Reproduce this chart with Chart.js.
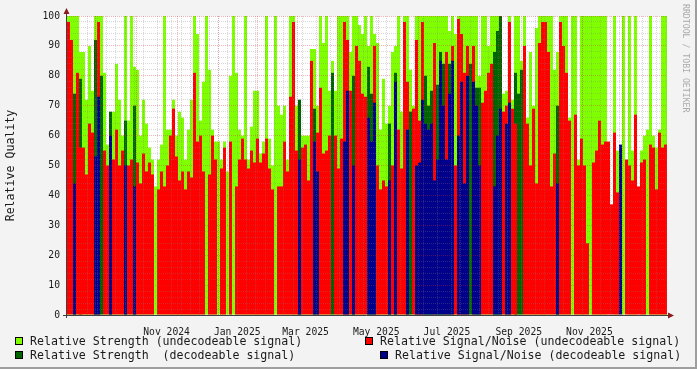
<!DOCTYPE html>
<html>
<head>
<meta charset="utf-8">
<script src="https://cdn.jsdelivr.net/npm/chart.js@4/dist/chart.umd.min.js"></script>
<style>
  body { margin: 0; background: #f3f3f3; }
  #wrap { position: relative; width: 697px; height: 369px; overflow: hidden; }
  #wrap::after { content: ''; position: absolute; right: 0; top: 0; width: 2px; height: 369px; background: #9e9e9e; }
  #wrap::before { content: ''; position: absolute; left: 0; bottom: 0; width: 697px; height: 2px; background: #9e9e9e; }
  canvas { position: absolute; left: 0; top: 0; }
  .lg { position: absolute; font: 11.6px "DejaVu Sans Mono", monospace; color: #1a1a1a; line-height: 14px; white-space: pre; }
  .sw { position: absolute; width: 6px; height: 6px; border: 1px solid #000; }
  #mark { position: absolute; left: 681px; top: 4px; writing-mode: vertical-rl; font: 8.2px "DejaVu Sans Mono", monospace; color: #aaaaaa; white-space: pre; }
</style>
</head>
<body>
<div id="wrap">
  <canvas id="quality" width="697" height="369"></canvas>
  <div id="mark">RRDTOOL / TOBI OETIKER</div>
  <div class="sw" style="left:15px;top:337px;background:#7fff00"></div>
  <div class="lg" style="left:30px;top:334px">Relative Strength (undecodeable signal)</div>
  <div class="sw" style="left:365px;top:337px;background:#ff0000"></div>
  <div class="lg" style="left:380px;top:334px">Relative Signal/Noise (undecodeable signal)</div>
  <div class="sw" style="left:15px;top:351px;background:#006400"></div>
  <div class="lg" style="left:30px;top:348px">Relative Strength  (decodeable signal)</div>
  <div class="sw" style="left:380px;top:351px;background:#00008b"></div>
  <div class="lg" style="left:395px;top:348px">Relative Signal/Noise (decodeable signal)</div>
</div>
<script>
// one bin = 2.22 days, first bin starts 28 Sep 2024
const startDay = Date.UTC(2024, 8, 28);
const daysPerBin = 2.22;
const dayMs = 86400000;

// Relative Strength (undecodeable signal)
const limeStrength = [
  100,100,100,100,88,88,72,90,75,100,100,100,81,57,60,68,84,72,60,100,
  65,100,83,82,60,72,64,56,52,43,52,57,100,62,62,72,60,68,66,52,
  62,72,100,94,65,78,100,82,62,58,58,52,58,48,80,100,81,62,60,100,
  52,63,75,75,54,58,100,59,50,100,70,67,70,52,100,100,70,62,60,60,
  60,89,89,70,100,91,100,75,85,75,100,100,100,100,88,100,100,97,94,100,
  90,100,94,91,62,79,64,70,88,90,100,68,100,100,82,70,100,100,100,100,
  100,100,100,100,100,100,100,95,100,94,100,100,100,100,100,100,100,80,100,100,
  90,100,100,100,100,74,75,100,72,100,100,85,100,66,88,70,96,100,100,100,
  100,100,82,88,100,100,100,66,100,100,52,100,100,100,100,100,100,100,100,100,
  0,0,100,55,0,100,0,100,55,100,0,55,60,62,100,60,56,62,100,100
];

// Relative Signal/Noise (undecodeable signal)
const redSnr = [
  98,92,0,81,56,56,47,64,61,0,98,0,55,50,0,52,62,50,55,0,
  50,52,0,51,44,54,48,51,47,0,42,48,43,50,60,69,53,45,48,42,
  48,46,81,58,60,48,0,47,60,52,0,49,56,0,58,0,43,52,59,52,
  49,55,51,59,51,54,59,49,42,0,43,43,58,48,73,98,55,0,56,57,
  45,85,0,61,76,54,55,60,0,60,49,59,98,92,75,0,90,85,74,73,
  0,0,90,50,42,45,43,0,50,0,62,49,98,78,0,69,92,65,98,0,
  0,0,91,0,0,0,88,0,90,50,99,94,81,90,0,90,0,0,71,75,
  81,84,0,0,0,68,70,98,69,64,0,0,90,64,50,69,44,91,98,98,
  88,43,54,0,98,90,81,65,0,67,50,59,50,24,0,51,55,65,57,58,
  58,37,61,41,0,0,52,50,45,67,43,51,52,0,57,56,42,61,56,57
];

// Relative Strength (decodeable signal)
const dkStrength = [
  0,0,74,0,79,0,0,0,0,92,0,80,0,0,68,0,0,0,0,65,
  0,0,70,0,0,0,0,0,0,0,0,0,0,0,0,0,0,0,0,0,
  0,0,0,0,0,0,0,0,0,0,0,0,0,0,0,0,0,0,0,0,
  0,0,0,0,0,0,0,0,0,0,0,0,0,0,0,0,0,72,0,0,
  0,0,69,0,0,0,0,0,81,0,0,0,0,0,0,80,0,0,0,0,
  83,74,0,0,0,0,0,64,0,81,0,0,0,0,68,0,0,0,0,80,
  70,75,0,77,88,84,0,84,0,0,0,0,0,0,84,0,76,76,0,0,
  0,0,88,95,100,0,0,0,0,81,74,82,0,0,0,0,0,0,0,0,
  0,0,0,70,0,0,0,0,0,0,0,0,0,0,0,0,0,0,0,0,
  0,0,0,0,0,0,0,0,0,0,0,0,0,0,0,0,0,0,0,0
];

// Relative Signal/Noise (decodeable signal)
const blueSnr = [
  0,0,44,0,0,0,0,0,0,53,73,0,0,0,60,0,0,0,0,50,
  0,0,43,0,0,0,0,0,0,0,0,0,0,0,0,0,0,0,0,0,
  0,0,0,0,0,0,0,0,0,0,0,0,0,0,0,0,0,0,0,0,
  0,0,0,0,0,0,0,0,0,0,0,0,0,0,0,0,0,52,0,0,
  0,0,58,48,0,0,0,0,0,0,0,0,58,75,0,50,0,0,0,0,
  66,58,71,0,0,0,0,45,0,78,0,0,0,62,0,0,50,51,72,64,
  62,64,45,52,85,70,52,74,85,0,60,78,44,80,0,78,70,50,0,0,
  0,0,43,60,69,0,64,71,0,0,0,0,0,0,0,0,0,0,0,0,
  0,0,0,44,0,0,0,0,0,0,0,0,0,0,0,0,0,0,0,0,
  0,0,0,0,57,0,0,0,0,0,0,0,0,0,0,0,0,0,0,0
];

const tickLabels = ['Nov 2024', 'Jan 2025', 'Mar 2025', 'May 2025', 'Jul 2025', 'Sep 2025', 'Nov 2025'];
const tickLabelDates = [[2024, 10, 16], [2025, 0, 16], [2025, 2, 16], [2025, 4, 16], [2025, 6, 16], [2025, 8, 16], [2025, 10, 16]];

function toBin(y, m, d) {
    return (Date.UTC(y, m, d) - startDay) / dayMs / daysPerBin;
}

const binCount = limeStrength.length;
const categories = limeStrength.map((v, i) => new Date(startDay + i * daysPerBin * dayMs).toISOString().slice(0, 10));

// month starts = major grid, mondays = minor grid
const gridTicks = [];
for (let m = 9; m <= 23; m++) {
    gridTicks.push({ value: toBin(2024, m, 1), major: true });
}
for (let d = 2; d < binCount * daysPerBin; d += 7) {
    const v = d / daysPerBin;
    if (!gridTicks.some(t => Math.abs(t.value - v) < 0.5)) gridTicks.push({ value: v, major: false });
}
const labelTicks = tickLabelDates.map(([y, m, d]) => ({ value: toBin(y, m, d) }));

const monoFont = '"DejaVu Sans Mono", monospace';

const plotBackground = {
    id: 'plotBackground',
    beforeDraw(chart) {
        const { ctx, chartArea } = chart;
        ctx.save();
        ctx.fillStyle = '#ffffff';
        ctx.fillRect(chartArea.left, chartArea.top, chartArea.right - chartArea.left, chartArea.bottom - chartArea.top);
        ctx.restore();
    }
};

const axisArrows = {
    id: 'axisArrows',
    afterDraw(chart) {
        const { ctx, chartArea } = chart;
        const { left, top, right, bottom } = chartArea;
        ctx.save();
        ctx.strokeStyle = '#404040';
        ctx.lineWidth = 1;
        ctx.beginPath();
        ctx.moveTo(left - 0.5, bottom + 3);
        ctx.lineTo(left - 0.5, top - 3);
        ctx.moveTo(left - 4, bottom + 0.5);
        ctx.lineTo(right + 3, bottom + 0.5);
        ctx.stroke();
        ctx.fillStyle = '#8b1a1a';
        ctx.beginPath();
        ctx.moveTo(left - 3.5, top - 2);
        ctx.lineTo(left + 2.5, top - 2);
        ctx.lineTo(left - 0.5, top - 8);
        ctx.closePath();
        ctx.fill();
        ctx.beginPath();
        ctx.moveTo(right + 1, bottom - 2.5);
        ctx.lineTo(right + 1, bottom + 3.5);
        ctx.lineTo(right + 7, bottom + 0.5);
        ctx.closePath();
        ctx.fill();
        ctx.restore();
    }
};

new Chart(document.getElementById('quality'), {
    type: 'bar',
    data: {
        labels: categories,
        datasets: [
            { label: 'Relative Signal/Noise (decodeable signal)', data: blueSnr, backgroundColor: '#00008b', order: 1 },
            { label: 'Relative Signal/Noise (undecodeable signal)', data: redSnr, backgroundColor: '#ff0000', order: 2 },
            { label: 'Relative Strength  (decodeable signal)', data: dkStrength, backgroundColor: '#006400', order: 3 },
            { label: 'Relative Strength (undecodeable signal)', data: limeStrength, backgroundColor: '#7fff00', order: 4 }
        ]
    },
    options: {
        responsive: false,
        animation: false,
        devicePixelRatio: 1,
        datasets: {
            bar: { grouped: false, categoryPercentage: 1, barPercentage: 1, borderWidth: 0, inflateAmount: 0 }
        },
        layout: { padding: { left: 0, top: 16, right: 30, bottom: 0 } },
        plugins: { legend: { display: false }, tooltip: { enabled: false } },
        scales: {
            x: { display: false },
            xt: {
                type: 'linear', position: 'bottom', min: 0, max: binCount,
                afterBuildTicks: scale => { scale.ticks = gridTicks.map(t => ({ value: t.value, major: t.major })); },
                afterFit: scale => { scale.height = 0; },
                ticks: { display: false, autoSkip: false },
                border: { display: false, dash: [1, 1] },
                grid: {
                    z: 1, drawTicks: false,
                    color: ctx => (ctx.tick && ctx.tick.major) ? 'rgba(215,40,40,0.35)' : 'rgba(128,128,128,0.3)'
                }
            },
            xl: {
                type: 'linear', position: 'bottom', min: 0, max: binCount,
                afterBuildTicks: scale => { scale.ticks = labelTicks.map(t => ({ value: t.value })); },
                afterFit: scale => { scale.height = 54; },
                ticks: {
                    autoSkip: false, maxRotation: 0, padding: 4, color: '#1a1a1a',
                    font: { family: monoFont, size: 9.7 },
                    callback: (v, i) => tickLabels[i]
                },
                border: { display: false },
                grid: { display: false }
            },
            y: {
                min: 0, max: 100,
                afterBuildTicks: scale => {
                    const t = [];
                    for (let v = 0; v <= 100; v += 2) t.push({ value: v });
                    scale.ticks = t;
                },
                afterFit: scale => { scale.width = 67; },
                ticks: {
                    autoSkip: false, padding: 7, color: '#1a1a1a',
                    font: { family: monoFont, size: 9.7 },
                    callback: v => (v % 10 === 0 ? String(v) : '')
                },
                border: { display: false, dash: [1, 1] },
                grid: {
                    z: 1, drawTicks: false,
                    color: ctx => (ctx.tick && ctx.tick.value % 10 === 0) ? 'rgba(215,40,40,0.35)' : 'rgba(128,128,128,0.3)'
                },
                title: {
                    display: true, text: 'Relative Quality', color: '#1a1a1a',
                    font: { family: monoFont, size: 11.6 }, padding: { top: 4, bottom: 4 }
                }
            }
        }
    },
    plugins: [plotBackground, axisArrows]
});
</script>
</body>
</html>
